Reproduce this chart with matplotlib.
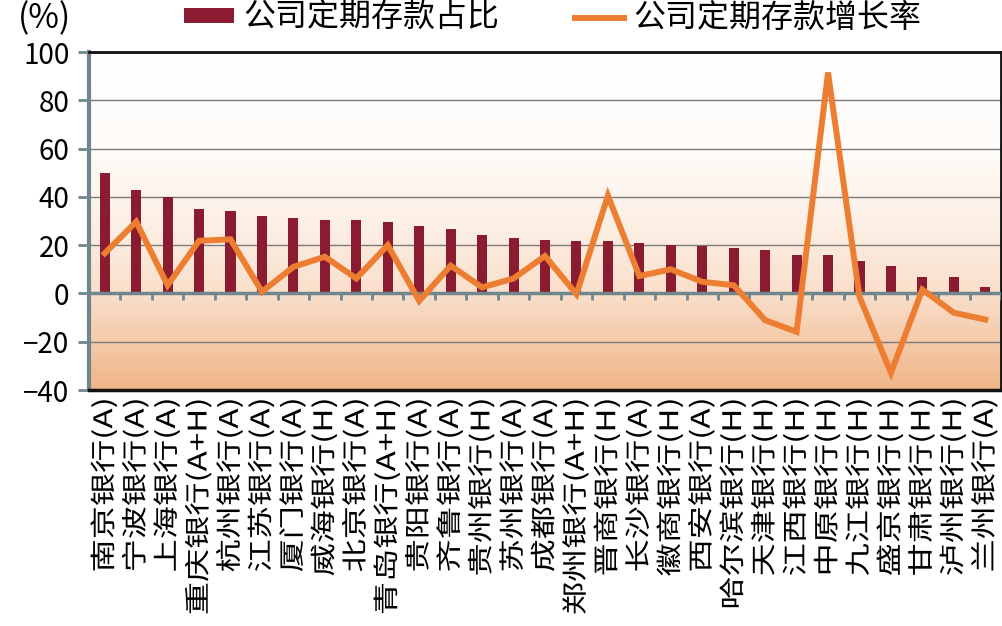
import numpy as np
import matplotlib
matplotlib.use("Agg")
import matplotlib.pyplot as plt
from matplotlib.colors import LinearSegmentedColormap
from matplotlib.patches import Patch
from matplotlib.lines import Line2D
from matplotlib.patheffects import AbstractPathEffect
from matplotlib.transforms import Affine2D

plt.rcParams['font.family'] = ['Noto Sans CJK SC', 'DejaVu Sans']
plt.rcParams['axes.unicode_minus'] = True

banks = ["南京银行(A)", "宁波银行(A)", "上海银行(A)", "重庆银行(A+H)", "杭州银行(A)",
         "江苏银行(A)", "厦门银行(A)", "威海银行(H)", "北京银行(A)", "青岛银行(A+H)",
         "贵阳银行(A)", "齐鲁银行(A)", "贵州银行(H)", "苏州银行(A)", "成都银行(A)",
         "郑州银行(A+H)", "晋商银行(H)", "长沙银行(A)", "徽商银行(H)", "西安银行(A)",
         "哈尔滨银行(H)", "天津银行(H)", "江西银行(H)", "中原银行(H)", "九江银行(H)",
         "盛京银行(H)", "甘肃银行(H)", "泸州银行(H)", "兰州银行(A)"]

# 公司定期存款占比 (%)
share = [49.7, 43.0, 40.0, 35.0, 34.0, 32.1, 31.1, 30.4, 30.3, 29.6,
         27.9, 26.6, 24.2, 23.1, 22.0, 21.9, 21.7, 20.9, 20.2, 19.5,
         18.8, 17.8, 16.0, 16.0, 13.4, 11.2, 6.9, 6.6, 2.8]

# 公司定期存款增长率 (%)
growth = [16.6, 29.7, 3.4, 21.8, 22.4, 0.7, 11.0, 15.2, 6.2, 20.0,
          -3.1, 11.5, 2.5, 6.2, 15.5, -0.3, 40.5, 7.2, 10.0, 4.8,
          3.4, -11.1, -15.9, 91.5, -1.4, -32.9, 1.6, -8.0, -10.8]

yticks = [100, 80, 60, 40, 20, 0, -20, -40]
ytick_labels = ["100", "80", "60", "40", "20", "0", "−20", "−40"]

bar_color = "#8a1b31"
line_color = "#ed7d31"
axis_gray = "#6f868d"


class StretchY(AbstractPathEffect):
    """Draw glyphs elongated vertically, keeping a fixed top edge."""

    def __init__(self, ax, factor, pad_px):
        super().__init__()
        self.ax = ax
        self.factor = factor
        self.pad_px = pad_px

    def draw_path(self, renderer, gc, tpath, affine, rgbFace=None):
        y_top = self.ax.get_window_extent(renderer).y0 - self.pad_px
        extra = Affine2D().translate(0, -y_top).scale(1, self.factor).translate(0, y_top)
        renderer.draw_path(gc, tpath, affine + extra, rgbFace)


fig = plt.figure(figsize=(10.03, 6.26), dpi=100)
ax = fig.add_axes([89 / 1003, 1 - 390 / 626, 912 / 1003, 338 / 626])

n = len(banks)
x = np.arange(n)
ax.set_xlim(-0.5, n - 0.5)
ax.set_ylim(-40, 100)

# warm vertical gradient behind the plot
stops = [(-40, "#f0b588"), (0, "#f9dfcb"), (30, "#fcf0e6"), (60, "#fefbf8"), (100, "#ffffff")]
lo, hi = -40, 100
cmap = LinearSegmentedColormap.from_list(
    "warm", [((v - lo) / (hi - lo), c) for v, c in stops])
grad = np.linspace(lo, hi, 400).reshape(-1, 1)
ax.imshow(grad, cmap=cmap, origin="lower", aspect="auto",
          extent=(-0.5, n - 0.5, lo, hi), zorder=0, vmin=lo, vmax=hi)

# horizontal grid
for t in yticks:
    if t not in (0, 100, -40):
        ax.axhline(t, color="#7a7a7a", lw=1.0, zorder=1)

ax.bar(x, share, width=0.32, color=bar_color, zorder=2)

# zero line with category separators
ax.axhline(0, color=axis_gray, lw=2.5, zorder=3)
ax.vlines(x[:-1] + 0.5, -2.9, 0, color=axis_gray, lw=2.0, zorder=3)
ax.vlines([n - 0.5], -2.9, 0, color=axis_gray, lw=2.0, zorder=3)

ax.plot(x, growth, color=line_color, lw=4.3, zorder=4, solid_joinstyle="miter")

ax.set_yticks(yticks)
ax.set_yticklabels(ytick_labels, fontsize=20)
ax.tick_params(axis="y", direction="out", length=8, width=2, color=axis_gray, pad=6)

ax.set_xticks(x)
ax.set_xticklabels(banks, rotation=90, fontsize=18.5, va="top", ha="center")
ax.tick_params(axis="x", length=0, pad=5)
stretch = StretchY(ax, 1.29, 5 * 100 / 72)
for lab in ax.get_xticklabels():
    lab.set_path_effects([stretch])

for side in ("top", "right", "bottom"):
    ax.spines[side].set_color("#111111")
    ax.spines[side].set_linewidth(2.0)
ax.spines["bottom"].set_linewidth(2.5)
ax.spines["left"].set_color(axis_gray)
ax.spines["left"].set_linewidth(3.0)

fig.text(18 / 1003, 1 - 19 / 626, "(%)", fontsize=24, va="center", ha="left")

handles = [Patch(facecolor=bar_color, edgecolor="none"),
           Line2D([0], [0], color=line_color, lw=4.3)]
fig.legend(handles, ["公司定期存款占比", "公司定期存款增长率"], ncol=2,
           loc="center", bbox_to_anchor=(553 / 1003, 1 - 18 / 626),
           frameon=False, fontsize=23, handlelength=1.55, handleheight=0.34,
           handletextpad=0.3, columnspacing=2.35, borderpad=0, borderaxespad=0)

fig.savefig("out.png", dpi=100)
